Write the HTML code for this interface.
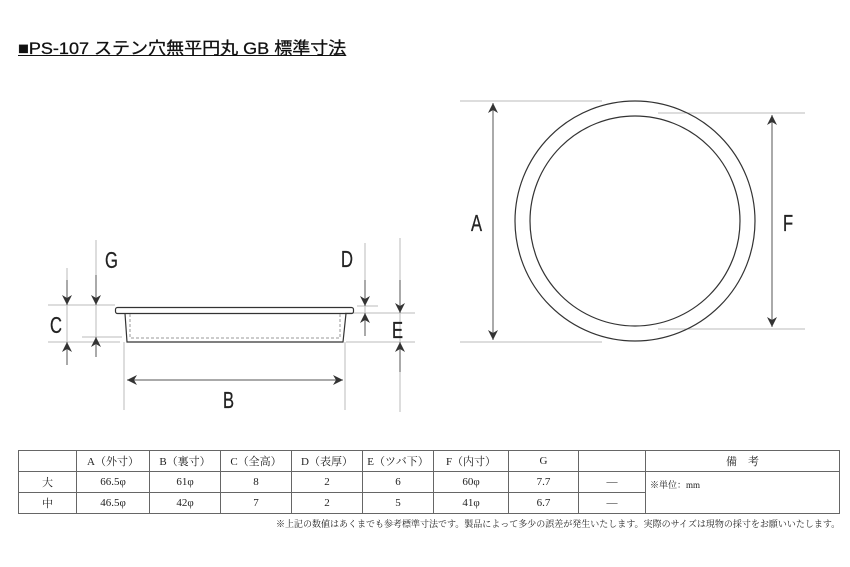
<!DOCTYPE html>
<html><head><meta charset="utf-8"><style>
body{margin:0;background:#fff;width:850px;height:567px;overflow:hidden;font-family:"Liberation Serif","Noto Serif CJK SC",serif;}
.t{position:absolute;left:18px;top:34px;font-family:"Liberation Sans","Noto Sans CJK JP",sans-serif;font-size:17px;color:#111;text-decoration:underline;transform:scaleX(1.06);transform-origin:0 0;white-space:nowrap;-webkit-text-stroke:0.3px #111}
table{position:absolute;left:18px;top:450px;border-collapse:collapse;font-size:11px;color:#222;table-layout:fixed;width:821px}
td{border:1px solid #666;height:20px;text-align:center;padding:0;overflow:hidden;white-space:nowrap}
.n{position:absolute;left:276px;top:517px;font-size:9px;color:#222;white-space:nowrap;font-family:"Liberation Serif","Noto Serif CJK JP",serif}
</style></head><body>
<div class="t">■PS-107 ステン穴無平円丸 GB 標準寸法</div>
<svg width="850" height="567" style="position:absolute;left:0;top:0" font-family="Liberation Sans, sans-serif">
<defs>
<marker id="ar" viewBox="0 0 10 10" refX="10" refY="5" markerWidth="16" markerHeight="10" orient="auto-start-reverse" markerUnits="userSpaceOnUse"><path d="M0,0 L10,5 L0,10 L3,5z" fill="#333"/></marker>
</defs>
<g stroke="#bbb" stroke-width="1" fill="none">
<line x1="460" y1="101" x2="602" y2="101"/><line x1="460" y1="342" x2="602" y2="342"/>
<line x1="658" y1="113" x2="805" y2="113"/><line x1="658" y1="329" x2="805" y2="329"/>
<line x1="48" y1="305" x2="115" y2="305"/><line x1="48" y1="342" x2="120" y2="342"/>
<line x1="82" y1="337" x2="122" y2="337"/>
<line x1="357" y1="306" x2="378" y2="306"/><line x1="345" y1="313" x2="415" y2="313"/><line x1="346" y1="342" x2="415" y2="342"/>
<line x1="124" y1="342" x2="124" y2="410"/><line x1="345" y1="342" x2="345" y2="410"/>
<line x1="67" y1="268" x2="67" y2="365"/><line x1="96" y1="240" x2="96" y2="357"/>
<line x1="365" y1="243" x2="365" y2="336"/><line x1="400" y1="238" x2="400" y2="412"/>
</g>
<g stroke="#555" stroke-width="1" fill="none">
<line x1="493" y1="103" x2="493" y2="340" marker-start="url(#ar)" marker-end="url(#ar)"/>
<line x1="772" y1="115" x2="772" y2="327" marker-start="url(#ar)" marker-end="url(#ar)"/>
<line x1="127" y1="380" x2="343" y2="380" marker-start="url(#ar)" marker-end="url(#ar)"/>
<line x1="67" y1="280" x2="67" y2="305" marker-end="url(#ar)"/><line x1="67" y1="365" x2="67" y2="342" marker-end="url(#ar)"/>
<line x1="96" y1="275" x2="96" y2="305" marker-end="url(#ar)"/><line x1="96" y1="357" x2="96" y2="337" marker-end="url(#ar)"/>
<line x1="365" y1="280" x2="365" y2="306" marker-end="url(#ar)"/><line x1="365" y1="336" x2="365" y2="313" marker-end="url(#ar)"/>
<line x1="400" y1="280" x2="400" y2="313" marker-end="url(#ar)"/><line x1="400" y1="372" x2="400" y2="342" marker-end="url(#ar)"/>
</g>
<g stroke="#333" stroke-width="1.2" fill="none">
<circle cx="635" cy="221" r="120"/><circle cx="635" cy="221" r="105"/>
<rect x="115.5" y="307.5" width="238" height="6" rx="2"/>
<path d="M125,313.5 L127,342 L343,342 L346,313.5"/>
</g>
<path d="M130,314 L130,338 L340,338 L340,314" stroke="#999" stroke-dasharray="3,2" fill="none"/>
<g fill="#222" font-size="23" stroke="#222" stroke-width="0.3">
<text transform="translate(471,231) scale(0.72,1)">A</text>
<text transform="translate(783,231) scale(0.72,1)">F</text>
<text transform="translate(223,408) scale(0.72,1)">B</text>
<text transform="translate(50,333) scale(0.72,1)">C</text>
<text transform="translate(105,268) scale(0.72,1)">G</text>
<text transform="translate(341,267) scale(0.72,1)">D</text>
<text transform="translate(392,338) scale(0.72,1)">E</text>
</g>
</svg>
<table>
<colgroup><col style="width:58px"><col style="width:73px"><col style="width:71px"><col style="width:71px"><col style="width:71px"><col style="width:71px"><col style="width:75px"><col style="width:70px"><col style="width:67px"><col style="width:194px"></colgroup>
<tr><td></td><td>A（外寸）</td><td>B（裏寸）</td><td>C（全高）</td><td>D（表厚）</td><td>E（ツバ下）</td><td>F（内寸）</td><td>G</td><td></td><td>備　考</td></tr>
<tr><td>大</td><td>66.5φ</td><td>61φ</td><td>8</td><td>2</td><td>6</td><td>60φ</td><td>7.7</td><td>—</td><td rowspan="2" style="text-align:left;vertical-align:top;font-size:9px;padding:6px 4px">※単位：mm</td></tr>
<tr><td>中</td><td>46.5φ</td><td>42φ</td><td>7</td><td>2</td><td>5</td><td>41φ</td><td>6.7</td><td>—</td></tr>
</table>
<div class="n">※上記の数値はあくまでも参考標準寸法です。製品によって多少の誤差が発生いたします。実際のサイズは現物の採寸をお願いいたします。</div>
</body></html>
